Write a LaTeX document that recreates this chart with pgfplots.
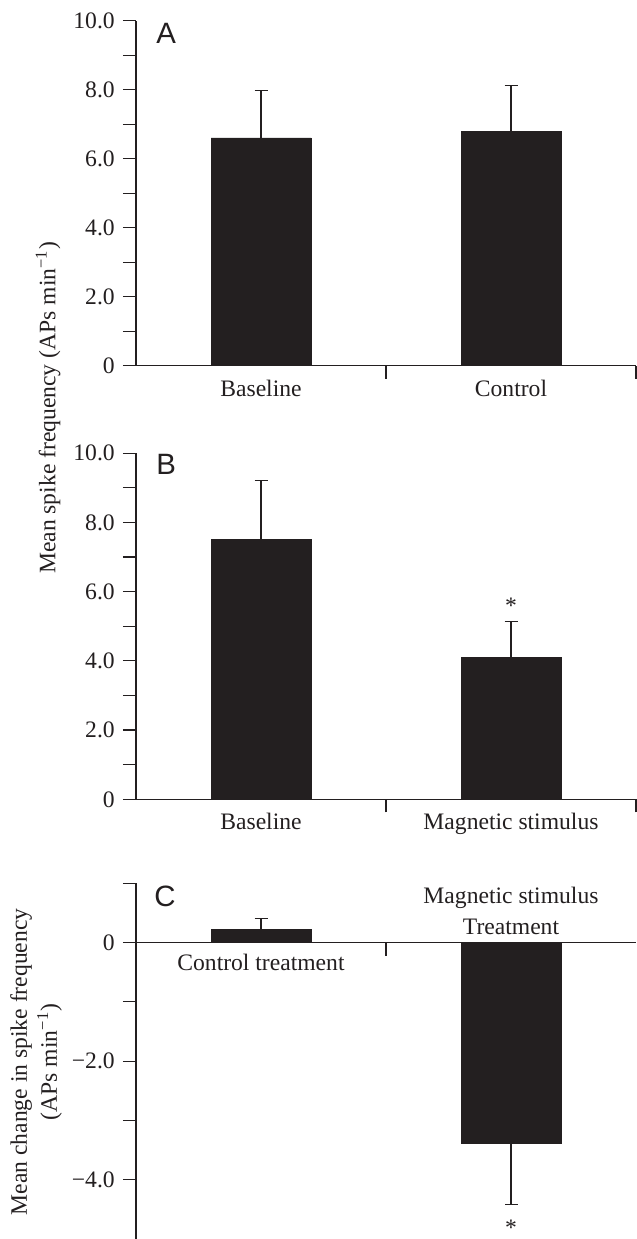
\documentclass[border=0pt]{standalone}
\usepackage{fontspec}
\setmainfont{Liberation Serif}
\newfontfamily\panelfont{Liberation Sans}
\usepackage{pgfplots}
\pgfplotsset{compat=1.18}
\definecolor{ink}{HTML}{231F20}

\pgfplotsset{
  panel/.style={
    scale only axis, width=250pt,
    xmin=-0.5, xmax=1.5,
    axis line style={-, ink, line width=0.6pt},
    tick style={ink, line width=0.6pt},
    major tick length=6.5pt,
    every tick label/.append style={ink},
    clip=false,
  },
  catlabels/.style={
    extra x ticks={0,1}, extra x tick labels={#1},
    extra x tick style={major tick length=0pt, tick label style={yshift=-2.9pt}},
  },
  bars/.style={
    ybar, bar width=50pt, bar shift=0pt, fill=ink, draw=ink,
    /pgfplots/error bars/y dir=#1,
    /pgfplots/error bars/y explicit,
    /pgfplots/error bars/error bar style={ink, line width=0.6pt},
    /pgfplots/error bars/error mark options={rotate=90, mark size=3.25pt, ink, line width=0.6pt},
  },
}

\begin{document}
\fontsize{11.8}{14.2}\selectfont
\color{ink}
\begin{tikzpicture}
\useasboundingbox (0,0) rectangle (318.5pt,619.5pt);

% panel A
\begin{axis}[panel, at={(68pt,436.65pt)}, anchor=south west, height=172.5pt,
  axis x line*=bottom, axis y line*=left, tick align=outside,
  ymin=0, ymax=10,
  ytick={0,...,10}, yticklabels={0,,2.0,,4.0,,6.0,,8.0,,10.0},
  xtick={0.5,1.5}, xticklabels={},
  catlabels={Baseline,Control}]
\addplot[bars=plus] coordinates {(0,6.60) +- (0,1.37) (1,6.79) +- (0,1.34)};
\end{axis}

% panel B
\begin{axis}[panel, at={(68pt,219.85pt)}, anchor=south west, height=173pt,
  axis x line*=bottom, axis y line*=left, tick align=outside,
  ymin=0, ymax=10,
  ytick={0,...,10}, yticklabels={0,,2.0,,4.0,,6.0,,8.0,,10.0},
  xtick={0.5,1.5}, xticklabels={},
  catlabels={Baseline,Magnetic stimulus}]
\addplot[bars=plus] coordinates {(0,7.51) +- (0,1.70) (1,4.11) +- (0,1.04)};
\node[yshift=-1.4pt] at (axis cs:1,5.68) {*};
\end{axis}

% panel C
\begin{axis}[panel, at={(68pt,0pt)}, anchor=south west, height=177.85pt,
  axis x line*=middle, axis y line*=left, tick align=outside,
  xtick align=center,
  ymin=-5, ymax=1,
  ytick={-4,...,1}, yticklabels={−4.0,,−2.0,,0,},
  xtick={0.5}, xticklabels={},
  xtick style={yshift=-3.25pt}]
\addplot[bars=plus] coordinates {(0,0.22) +- (0,0.18)};
\addplot[bars=minus] coordinates {(1,-3.39) +- (0,1.03)};
\node at (axis cs:0,-0.34) {Control treatment};
\node at (axis cs:1,0.75) {Magnetic stimulus};
\node at (axis cs:1,0.27) {Treatment};
\node[yshift=-1.4pt] at (axis cs:1,-4.76) {*};
\end{axis}

% axis titles and panel letters
\node[rotate=90] at (24pt,415.5pt) {Mean spike frequency (APs min\textsuperscript{−1})};
\node[rotate=90, align=center, font=\fontsize{11.8}{15}\selectfont] at (18pt,88.5pt)
  {Mean change in spike frequency\\(APs min\textsuperscript{−1})};
\node[anchor=base west, inner sep=0pt, font=\panelfont\fontsize{14.7}{17}\selectfont] at (78pt,597.85pt) {A};
\node[anchor=base west, inner sep=0pt, font=\panelfont\fontsize{14.7}{17}\selectfont] at (78pt,382pt) {B};
\node[anchor=base west, inner sep=0pt, font=\panelfont\fontsize{14.7}{17}\selectfont] at (77pt,166.2pt) {C};
\end{tikzpicture}
\end{document}
